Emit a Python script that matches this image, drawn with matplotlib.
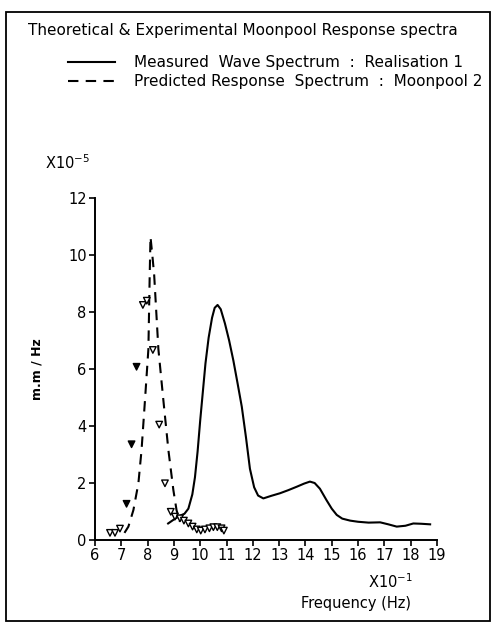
import matplotlib
matplotlib.use("Agg")
import matplotlib.pyplot as plt
from matplotlib.patches import Rectangle

# -----------------------------
# DATA (freq in units of 1e-1 Hz, spectra in units of 1e-5 m.m/Hz)
# -----------------------------
measured_f = [8.78, 9.0, 9.2, 9.4, 9.55, 9.7, 9.8, 9.9, 10.0, 10.1, 10.2, 10.32,
              10.45, 10.55, 10.66, 10.78, 10.94, 11.1, 11.26, 11.42, 11.58, 11.74,
              11.89, 12.05, 12.2, 12.4, 12.7, 13.03, 13.35, 13.67, 13.95, 14.17,
              14.35, 14.55, 14.8, 15.0, 15.19, 15.4, 15.7, 16.0, 16.4, 16.84,
              17.15, 17.47, 17.8, 18.1, 18.4, 18.74]
measured_s = [0.58, 0.72, 0.84, 0.92, 1.1, 1.6, 2.2, 3.1, 4.2, 5.2, 6.2, 7.1,
              7.8, 8.15, 8.25, 8.1, 7.6, 7.0, 6.3, 5.5, 4.68, 3.6,
              2.5, 1.85, 1.56, 1.46, 1.55, 1.64, 1.75, 1.87, 1.98, 2.05,
              2.0, 1.8, 1.4, 1.1, 0.88, 0.75, 0.68, 0.64, 0.61, 0.62,
              0.55, 0.47, 0.5, 0.58, 0.57, 0.55]

predicted_f = [7.12, 7.27, 7.46, 7.65, 7.77, 7.9, 8.03, 8.08, 8.11, 8.18, 8.25,
               8.41, 8.6, 8.79, 8.98, 9.1, 9.23]
predicted_s = [0.25, 0.47, 1.05, 1.99, 3.16, 4.9, 6.7, 9.3, 10.64, 10.0, 9.3,
               6.7, 4.9, 3.16, 1.75, 1.05, 0.64]

exp_f = [6.57, 6.76, 6.95, 7.2, 7.39, 7.58, 7.82, 7.97, 8.2, 8.44, 8.66, 8.88,
         9.04, 9.23, 9.38, 9.55, 9.71, 9.87, 10.02, 10.18, 10.35, 10.5, 10.65,
         10.81, 10.9]
exp_s = [0.25, 0.25, 0.4, 1.27, 3.36, 6.08, 8.25, 8.4, 6.67, 4.05, 1.99, 0.99,
         0.82, 0.76, 0.68, 0.58, 0.47, 0.37, 0.33, 0.37, 0.41, 0.45, 0.45,
         0.41, 0.33]
exp_filled = [False, False, False, True, True, True, False, False, False, False,
              False, False, False, False, False, False, False, False, False,
              False, False, False, False, False, False]

x_ticks = list(range(6, 20))
y_ticks = [0, 2, 4, 6, 8, 10, 12]

# -----------------------------
# PLOT
# -----------------------------
plt.rcParams["font.family"] = "DejaVu Sans"

fig = plt.figure(figsize=(4.96, 6.25), dpi=100)
ax = fig.add_axes([0.1915, 0.136, 0.6895, 0.547])

(line_meas,) = ax.plot(measured_f, measured_s, color="black", lw=1.5,
                       label="Measured  Wave Spectrum  :  Realisation 1")
(line_pred,) = ax.plot(predicted_f, predicted_s, color="black", lw=1.5,
                       dashes=(5, 3.5),
                       label="Predicted Response  Spectrum  :  Moonpool 2")

faces = ["black" if f else "white" for f in exp_filled]
ax.scatter(exp_f, exp_s, marker="v", s=22, facecolors=faces,
           edgecolors="black", linewidths=1.0, zorder=3)

ax.set_xlim(6, 19)
ax.set_ylim(0, 12)
ax.set_xticks(x_ticks)
ax.set_yticks(y_ticks)
ax.tick_params(direction="out", length=4, width=1.2, labelsize=10.5, pad=2)
for s in ["top", "right"]:
    ax.spines[s].set_visible(False)
ax.spines["left"].set_linewidth(1.4)
ax.spines["bottom"].set_linewidth(1.4)

ax.set_ylabel("m.m / Hz", fontsize=9, fontweight="bold", labelpad=18)
ax.text(-0.145, 1.075, "X10$^{-5}$", transform=ax.transAxes, fontsize=10.5,
        ha="left", va="bottom")
ax.text(0.93, -0.095, "X10$^{-1}$", transform=ax.transAxes, fontsize=10.5,
        ha="right", va="top")
ax.text(0.925, -0.165, "Frequency (Hz)", transform=ax.transAxes, fontsize=10.5,
        ha="right", va="top")

fig.text(0.057, 0.952, "Theoretical & Experimental Moonpool Response spectra",
         fontsize=11, ha="left", va="center")
fig.legend(handles=[line_meas, line_pred], loc="upper left",
           bbox_to_anchor=(0.125, 0.922), frameon=False, fontsize=11,
           handlelength=3.1, handletextpad=1.2, labelspacing=0.3,
           borderaxespad=0)

fig.add_artist(Rectangle((0.012, 0.0064), 0.976, 0.975,
                         transform=fig.transFigure, fill=False,
                         edgecolor="black", lw=1.3))

fig.savefig("out.png", dpi=100)
